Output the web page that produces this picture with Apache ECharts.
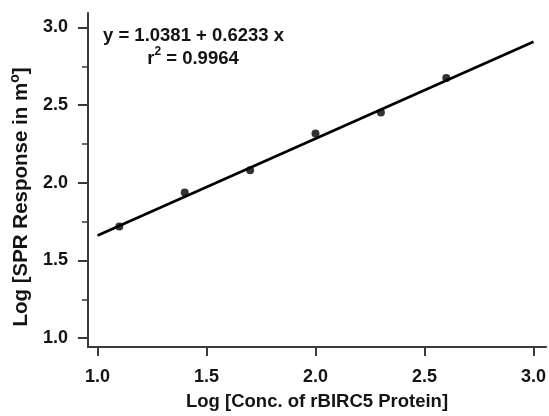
<!DOCTYPE html>
<html>
<head>
<meta charset="utf-8">
<script src="https://cdn.jsdelivr.net/npm/echarts@6/dist/echarts.min.js"></script>
<style>html,body{margin:0;padding:0;background:#fff}#c{width:549px;height:416px}</style>
</head>
<body>
<div id="c"></div>
<script>
// measured points
var concX = [1.1, 1.4, 1.7, 2.0, 2.3, 2.6];
var responseY = [1.718, 1.937, 2.080, 2.318, 2.453, 2.674];
// fitted line end points
var fitX = [1.0, 3.0];
var fitY = [1.661, 2.908];
// tick values
var xTicks = [1.0, 1.5, 2.0, 2.5, 3.0];
var yTicks = [1.0, 1.5, 2.0, 2.5, 3.0];
var yMinorTicks = [1.25, 1.75, 2.25, 2.75];
var eqLine1 = 'y = 1.0381 + 0.6233 x';
var eqLine2 = '{t|r}{s|2}{t| = 0.9964}';

var font = '"Liberation Sans", Arial, sans-serif';
var txt = '#141414';
var axisCol = '#3a3a3a';

var chart = echarts.init(document.getElementById('c'));
chart.setOption({
  animation: false,
  grid: { left: 87, right: 1, top: 13, bottom: 63, containLabel: false },
  xAxis: {
    type: 'value', min: 0.956, max: 3.058,
    name: 'Log [Conc. of rBIRC5 Protein]', nameLocation: 'middle', nameGap: 45,
    nameTextStyle: { fontFamily: font, fontWeight: 'bold', fontSize: 18.5, color: txt },
    axisLine: { show: true, lineStyle: { color: axisCol, width: 2 } },
    axisTick: { show: true, length: 9, customValues: xTicks, lineStyle: { color: axisCol, width: 2 } },
    axisLabel: { customValues: xTicks, margin: 21, fontFamily: font, fontWeight: 'bold', fontSize: 18, color: txt,
      formatter: function (v) { return v.toFixed(1); } },
    splitLine: { show: false }
  },
  yAxis: [{
    type: 'value', min: 0.943, max: 3.093,
    name: '{t|Log [SPR Response in m}{s|o}{t|]}', nameLocation: 'middle', nameGap: 55, nameRotate: 90,
    nameTextStyle: { padding: [0, 34, 0, 0],
      rich: {
        t: { fontFamily: font, fontWeight: 'bold', fontSize: 20.5, color: txt, lineHeight: 24, verticalAlign: 'bottom' },
        s: { fontFamily: font, fontWeight: 'bold', fontSize: 14, color: txt, lineHeight: 24, verticalAlign: 'top' }
      } },
    axisLine: { show: true, lineStyle: { color: axisCol, width: 2 } },
    axisTick: { show: true, length: 10, customValues: yTicks, lineStyle: { color: axisCol, width: 2 } },
    axisLabel: { customValues: yTicks, margin: 20, fontFamily: font, fontWeight: 'bold', fontSize: 18, color: txt,
      formatter: function (v) { return v.toFixed(1); } },
    splitLine: { show: false }
  }, {
    type: 'value', min: 0.943, max: 3.093, position: 'left',
    axisLine: { show: false },
    axisTick: { show: true, length: 6, customValues: yMinorTicks, lineStyle: { color: axisCol, width: 1.5 } },
    axisLabel: { show: false },
    splitLine: { show: false }
  }],
  graphic: [
    { type: 'text', x: 193.5, y: 36, style: { text: eqLine1, align: 'center', verticalAlign: 'middle',
      fontFamily: font, fontWeight: 'bold', fontSize: 18.5, fill: txt } },
    { type: 'text', x: 193, y: 57, style: { text: eqLine2, align: 'center', verticalAlign: 'middle',
      rich: {
        t: { fontFamily: font, fontWeight: 'bold', fontSize: 18.5, fill: txt, lineHeight: 22, verticalAlign: 'bottom' },
        s: { fontFamily: font, fontWeight: 'bold', fontSize: 12, fill: txt, lineHeight: 22, verticalAlign: 'top' }
      } } }
  ],
  series: [{
    type: 'line', yAxisIndex: 0,
    data: fitX.map(function (x, i) { return [x, fitY[i]]; }),
    symbol: 'none', lineStyle: { color: '#000', width: 2.6 }, z: 2
  }, {
    type: 'scatter', yAxisIndex: 0,
    data: concX.map(function (x, i) { return [x, responseY[i]]; }),
    symbol: 'circle', symbolSize: 8, itemStyle: { color: '#000' }, z: 3
  }]
});
</script>
</body>
</html>
